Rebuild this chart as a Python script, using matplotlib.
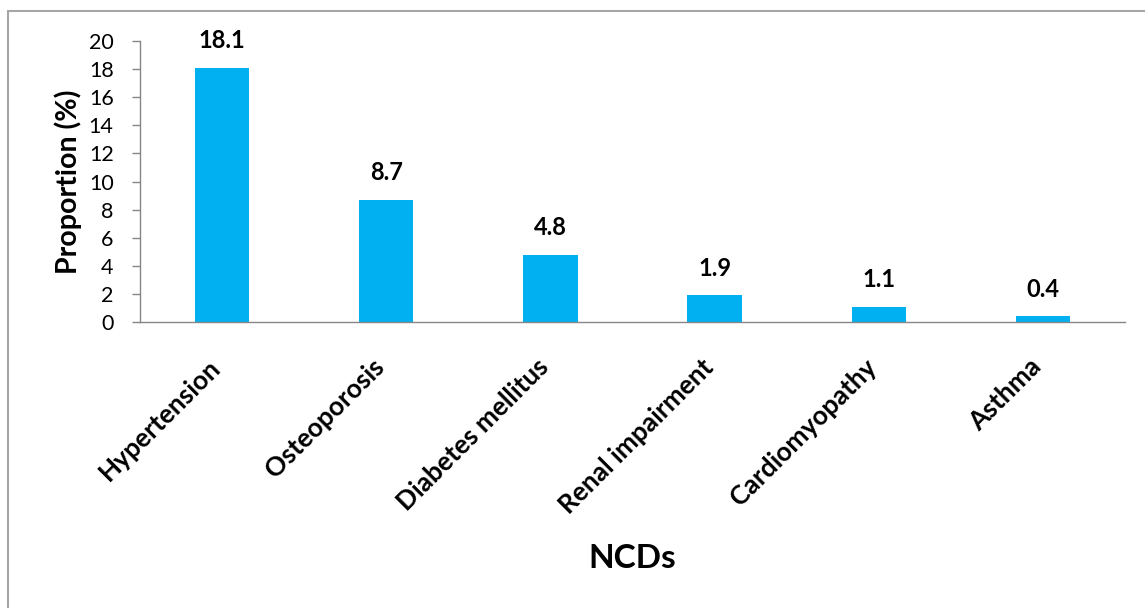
import matplotlib.pyplot as plt
from matplotlib.patches import Rectangle
from matplotlib.transforms import ScaledTranslation

# NCD prevalence
diseases = ['Hypertension', 'Osteoporosis', 'Diabetes mellitus',
            'Renal impairment', 'Cardiomyopathy', 'Asthma']
proportions = [18.1, 8.7, 4.8, 1.9, 1.1, 0.4]
yticks = [0, 2, 4, 6, 8, 10, 12, 14, 16, 18, 20]

plt.rcParams['font.family'] = ['Lato', 'DejaVu Sans']

W, H = 1145, 608
fig = plt.figure(figsize=(W / 100, H / 100), dpi=100)

# outer chart frame (only left/top edges visible)
fig.patches.append(Rectangle((8 / W, -0.1), 1.2, 1 - 11 / H + 0.1,
                             transform=fig.transFigure, fill=False,
                             edgecolor='#a6a6a6', linewidth=1.5))

ax = fig.add_axes([140 / W, 1 - 322 / H, (1125 - 140) / W, (322 - 41) / H])
x = range(len(diseases))
ax.bar(x, proportions, width=0.33, color='#00B0F0', zorder=2)

for xi, v in zip(x, proportions):
    ax.annotate(f'{v}', (xi, v), xytext=(0, 11), textcoords='offset points',
                ha='center', va='bottom', fontsize=17, fontweight='bold')

ax.set_xlim(-0.5, len(diseases) - 0.5)
ax.set_ylim(0, 20)
ax.set_yticks(yticks)
ax.set_xticks(list(x))
ax.set_xticklabels(diseases, rotation=45, ha='right', rotation_mode='anchor',
                   fontsize=19, fontweight='bold')
ax.tick_params(axis='x', length=0, pad=22)
ax.tick_params(axis='y', length=6, width=1, color='#868686', labelsize=15.5, pad=13)

# nudge the slanted category labels left
shift = ScaledTranslation(-14 / 100, -2 / 100, fig.dpi_scale_trans)
for lbl in ax.get_xticklabels():
    lbl.set_transform(lbl.get_transform() + shift)

for side in ['top', 'right']:
    ax.spines[side].set_visible(False)
for side in ['left', 'bottom']:
    ax.spines[side].set_color('#868686')
    ax.spines[side].set_linewidth(1)

ax.set_ylabel('Proportion (%)', fontsize=20.5, fontweight='bold', labelpad=5)
fig.text(632 / W, 1 - 558 / H, 'NCDs', ha='center', va='center',
         fontsize=24, fontweight='bold')

fig.savefig('out.png', dpi=100)
